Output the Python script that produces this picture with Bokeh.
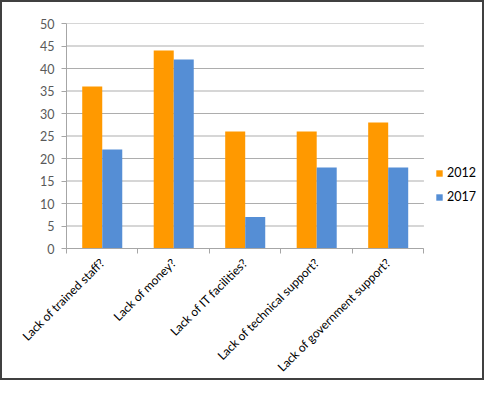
import math
from bokeh.plotting import figure
from bokeh.models import (ColumnDataSource, FixedTicker, Legend, LegendItem,
                          Range1d)
from bokeh.embed import file_html
from bokeh.resources import INLINE

categories = ["Lack of trained staff?", "Lack of money?", "Lack of IT facilities?",
              "Lack of technical support?", "Lack of government support?"]
series_2012 = [36, 44, 26, 26, 28]
series_2017 = [22, 42, 7, 18, 18]
y_ticks = [0, 5, 10, 15, 20, 25, 30, 35, 40, 45, 50]

FONT = "Lato"
ORANGE = "#FF9900"
BLUE = "#558ED5"

n = len(categories)
centers = [i + 0.5 for i in range(n)]
bar_w = 0.28
src = ColumnDataSource(dict(
    x12=[c - bar_w / 2 for c in centers],
    x17=[c + bar_w / 2 for c in centers],
    y12=series_2012,
    y17=series_2017,
))

# frame extends right of the category area to host the legend
x_end = n * 412 / 354

p = figure(width=484, height=380, output_backend="svg", toolbar_location=None,
           x_range=Range1d(0, x_end), y_range=Range1d(0, 50),
           min_border_left=64, min_border_right=4, min_border_top=21,
           min_border_bottom=124)
p.styles = {"border": "2px solid #404040", "box-sizing": "border-box"}
p.outline_line_color = None

# horizontal gridlines over the category area only
p.segment(x0=[0] * len(y_ticks), x1=[n] * len(y_ticks), y0=y_ticks, y1=y_ticks,
          line_color="#ADADAD", line_width=1, level="underlay")

r12 = p.vbar(x="x12", top="y12", width=bar_w, source=src, fill_color=ORANGE,
             line_color=None)
r17 = p.vbar(x="x17", top="y17", width=bar_w, source=src, fill_color=BLUE,
             line_color=None)

# y axis
p.yaxis.ticker = FixedTicker(ticks=y_ticks)
p.yaxis.axis_line_color = "#A6A6A6"
p.yaxis.major_tick_line_color = "#A6A6A6"
p.yaxis.major_tick_out = 5
p.yaxis.major_tick_in = 0
p.yaxis.minor_tick_line_color = None
p.yaxis.major_label_text_font = FONT
p.yaxis.major_label_text_font_size = "12.5px"
p.yaxis.major_label_text_color = "#595959"
p.yaxis.major_label_standoff = 7

# x axis
p.xaxis.bounds = (0, n)
p.xaxis.ticker = FixedTicker(ticks=centers, minor_ticks=list(range(n + 1)))
p.xaxis.major_label_overrides = {c: lab for c, lab in zip(centers, categories)}
p.xaxis.major_label_orientation = math.pi / 4
p.xaxis.major_tick_line_color = None
p.xaxis.major_tick_out = 0
p.xaxis.major_tick_in = 0
p.xaxis.minor_tick_line_color = "#A6A6A6"
p.xaxis.minor_tick_out = 5
p.xaxis.minor_tick_in = 0
p.xaxis.axis_line_color = "#A6A6A6"
p.xaxis.major_label_text_font = FONT
p.xaxis.major_label_text_font_size = "12px"
p.xaxis.major_label_text_color = "#000000"
p.xaxis.major_label_standoff = 7

p.xgrid.grid_line_color = None
p.ygrid.grid_line_color = None

legend = Legend(items=[LegendItem(label="2012", renderers=[r12]),
                       LegendItem(label="2017", renderers=[r17])],
                location=(369, 44), glyph_width=8, glyph_height=8,
                label_standoff=4, spacing=9, padding=0, margin=0,
                border_line_color=None, background_fill_alpha=0,
                label_text_font=FONT, label_text_font_size="12.5px",
                label_text_color="#000000")
p.add_layout(legend, "center")

open("out.html", "w").write(file_html(p, INLINE))
